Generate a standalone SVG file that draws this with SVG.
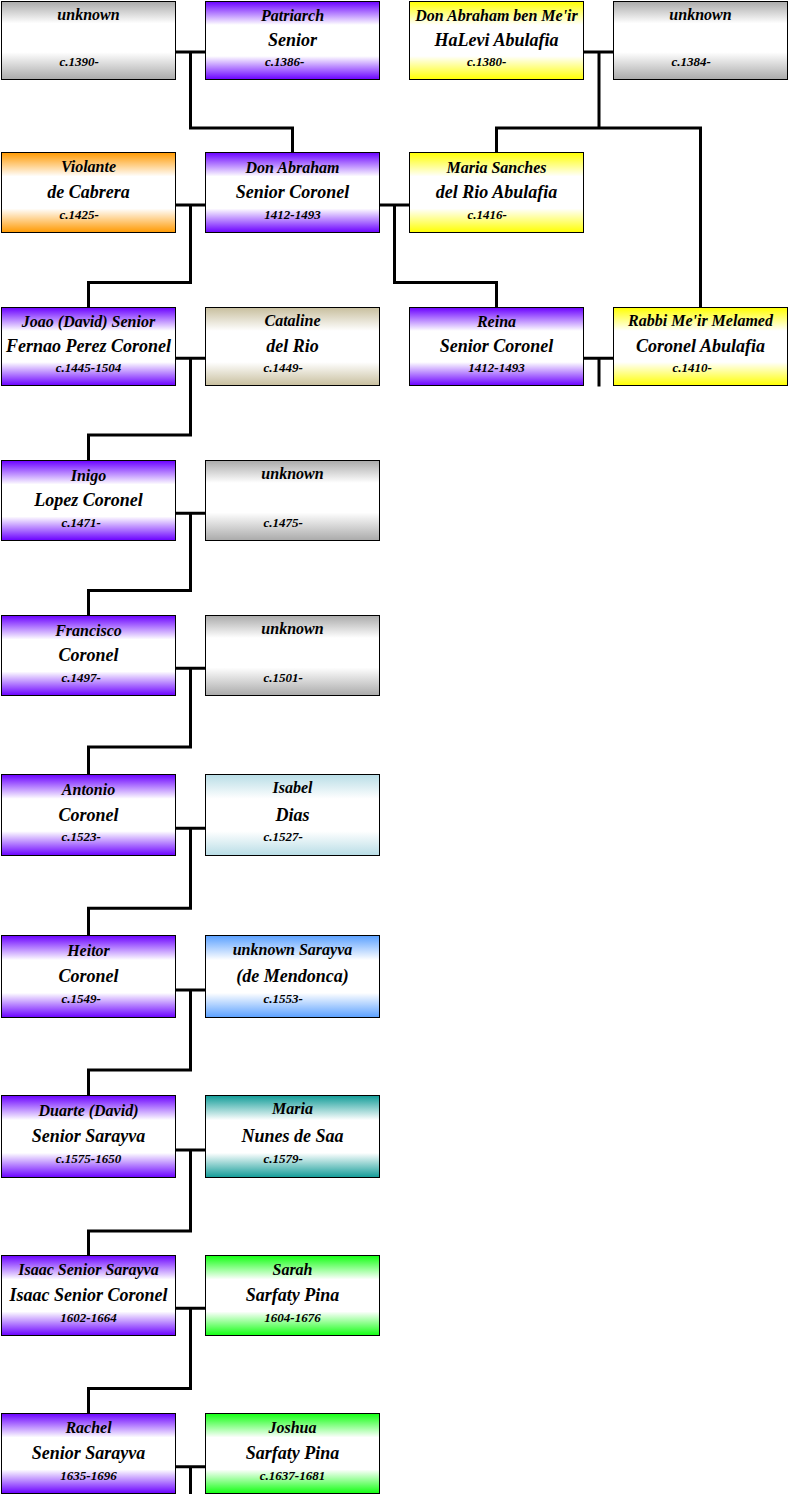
<svg xmlns="http://www.w3.org/2000/svg" width="788" height="1494" viewBox="0 0 788 1494">
<style>
.box{stroke:#000;stroke-width:1}
.t1{font-family:"Liberation Serif","DejaVu Serif",serif;font-style:italic;font-weight:bold;font-size:16px;fill:#000;text-anchor:middle}
.t2{font-family:"Liberation Serif","DejaVu Serif",serif;font-style:italic;font-weight:bold;font-size:18px;fill:#000;text-anchor:middle}
.t3{font-family:"Liberation Serif","DejaVu Serif",serif;font-style:italic;font-weight:bold;font-size:13px;fill:#000;text-anchor:middle}
.t3s{font-family:"Liberation Serif","DejaVu Serif",serif;font-style:italic;font-weight:bold;font-size:13px;fill:#000;text-anchor:start}
.conn path{fill:none;stroke:#000;stroke-width:3;stroke-linejoin:miter}
</style>
<defs>
<linearGradient id="gPurple" x1="0" y1="0" x2="0" y2="1"><stop offset="0" stop-color="#6a00ff"/><stop offset="0.3" stop-color="#fff"/><stop offset="0.7" stop-color="#fff"/><stop offset="1" stop-color="#6a00ff"/></linearGradient>
<linearGradient id="gGray" x1="0" y1="0" x2="0" y2="1"><stop offset="0" stop-color="#aaa"/><stop offset="0.28" stop-color="#fff"/><stop offset="0.65" stop-color="#fff"/><stop offset="1" stop-color="#aaa"/></linearGradient>
<linearGradient id="gYellow" x1="0" y1="0" x2="0" y2="1"><stop offset="0" stop-color="#ffff00"/><stop offset="0.3" stop-color="#fff"/><stop offset="0.7" stop-color="#fff"/><stop offset="1" stop-color="#ffff00"/></linearGradient>
<linearGradient id="gOrange" x1="0" y1="0" x2="0" y2="1"><stop offset="0" stop-color="#ff9900"/><stop offset="0.3" stop-color="#fff"/><stop offset="0.7" stop-color="#fff"/><stop offset="1" stop-color="#ff9900"/></linearGradient>
<linearGradient id="gTan" x1="0" y1="0" x2="0" y2="1"><stop offset="0" stop-color="#c8bf9e"/><stop offset="0.3" stop-color="#fff"/><stop offset="0.7" stop-color="#fff"/><stop offset="1" stop-color="#c8bf9e"/></linearGradient>
<linearGradient id="gLightBlue" x1="0" y1="0" x2="0" y2="1"><stop offset="0" stop-color="#b8dde6"/><stop offset="0.3" stop-color="#fff"/><stop offset="0.7" stop-color="#fff"/><stop offset="1" stop-color="#b8dde6"/></linearGradient>
<linearGradient id="gBlue" x1="0" y1="0" x2="0" y2="1"><stop offset="0" stop-color="#5aa0ff"/><stop offset="0.3" stop-color="#fff"/><stop offset="0.7" stop-color="#fff"/><stop offset="1" stop-color="#5aa0ff"/></linearGradient>
<linearGradient id="gTeal" x1="0" y1="0" x2="0" y2="1"><stop offset="0" stop-color="#119c98"/><stop offset="0.3" stop-color="#fff"/><stop offset="0.7" stop-color="#fff"/><stop offset="1" stop-color="#119c98"/></linearGradient>
<linearGradient id="gGreen" x1="0" y1="0" x2="0" y2="1"><stop offset="0" stop-color="#11ff11"/><stop offset="0.3" stop-color="#fff"/><stop offset="0.7" stop-color="#fff"/><stop offset="1" stop-color="#11ff11"/></linearGradient>
</defs>
<rect width="788" height="1494" fill="#fff"/>
<g id="connectors" class="conn">
<path d="M175.5 52 H205.5 M190.5 52 V128 H292.5 V152.5"/>
<path d="M583.5 52 H613.5 M599 52 V128 M496.5 152.5 V128 H700.5 V307.5"/>
<path d="M175.5 205 H205.5 M190.5 205 V282.5 H88.5 V307.5"/>
<path d="M379.5 205 H409.5 M394.5 205 V282.5 H496.5 V307.5"/>
<path d="M175.5 358.3 H205.5 M190.5 358.3 V435 H88.5 V460.5"/>
<path d="M583.5 358.3 H613.5 M599 358.3 V386.5"/>
<path d="M175.5 513.3 H205.5 M190.5 513.3 V590.5 H88.5 V615.5"/>
<path d="M175.5 668.3 H205.5 M190.5 668.3 V747 H88.5 V774.5"/>
<path d="M175.5 828.3 H205.5 M190.5 828.3 V908.3 H88.5 V935.5"/>
<path d="M175.5 990 H205.5 M190.5 990 V1070 H88.5 V1095.5"/>
<path d="M175.5 1150 H205.5 M190.5 1150 V1231 H88.5 V1255.5"/>
<path d="M175.5 1308.3 H205.5 M190.5 1308.3 V1388.5 H88.5 V1413.5"/>
<path d="M175.5 1466.7 H205.5 M190.5 1466.7 V1494"/>
</g>

<g id="n_unknown_1390"><rect class="box" x="1.5" y="1.5" width="174" height="78" fill="url(#gGray)"/><text class="t1" x="88.5" y="19.5">unknown</text><text class="t3s" x="59.5" y="66">c.1390-</text></g>
<g id="n_patriarch"><rect class="box" x="205.5" y="1.5" width="174" height="78" fill="url(#gPurple)"/><text class="t1" x="292.5" y="20.5">Patriarch</text><text class="t2" x="292.5" y="46">Senior</text><text class="t3s" x="265" y="66">c.1386-</text></g>
<g id="n_don_abraham_halevi"><rect class="box" x="409.5" y="1.5" width="174" height="78" fill="url(#gYellow)"/><text class="t1" x="496.5" y="20.5">Don Abraham ben Me'ir</text><text class="t2" x="496.5" y="46">HaLevi Abulafia</text><text class="t3s" x="467" y="66">c.1380-</text></g>
<g id="n_unknown_1384"><rect class="box" x="613.5" y="1.5" width="174" height="78" fill="url(#gGray)"/><text class="t1" x="700.5" y="19.5">unknown</text><text class="t3s" x="671.5" y="66">c.1384-</text></g>

<g id="n_violante"><rect class="box" x="1.5" y="152.5" width="174" height="80" fill="url(#gOrange)"/><text class="t1" x="88.5" y="171.5">Violante</text><text class="t2" x="88.5" y="198">de Cabrera</text><text class="t3s" x="59.5" y="218.5">c.1425-</text></g>
<g id="n_don_abraham_senior"><rect class="box" x="205.5" y="152.5" width="174" height="80" fill="url(#gPurple)"/><text class="t1" x="292.5" y="172.5">Don Abraham</text><text class="t2" x="292.5" y="198">Senior Coronel</text><text class="t3" x="292.5" y="218.5">1412-1493</text></g>
<g id="n_maria_sanches"><rect class="box" x="409.5" y="152.5" width="174" height="80" fill="url(#gYellow)"/><text class="t1" x="496.5" y="172.5">Maria Sanches</text><text class="t2" x="496.5" y="198">del Rio Abulafia</text><text class="t3s" x="467.5" y="218.5">c.1416-</text></g>

<g id="n_joao"><rect class="box" x="1.5" y="307.5" width="174" height="78" fill="url(#gPurple)"/><text class="t1" x="88.5" y="327">Joao (David) Senior</text><text class="t2" x="88.5" y="352">Fernao Perez Coronel</text><text class="t3" x="88.5" y="372">c.1445-1504</text></g>
<g id="n_cataline"><rect class="box" x="205.5" y="307.5" width="174" height="78" fill="url(#gTan)"/><text class="t1" x="292.5" y="326">Cataline</text><text class="t2" x="292.5" y="352">del Rio</text><text class="t3s" x="263.5" y="372">c.1449-</text></g>
<g id="n_reina"><rect class="box" x="409.5" y="307.5" width="174" height="78" fill="url(#gPurple)"/><text class="t1" x="496.5" y="326.5">Reina</text><text class="t2" x="496.5" y="352">Senior Coronel</text><text class="t3" x="496.5" y="372">1412-1493</text></g>
<g id="n_rabbi_meir"><rect class="box" x="613.5" y="307.5" width="174" height="78" fill="url(#gYellow)"/><text class="t1" x="700.5" y="326">Rabbi Me'ir Melamed</text><text class="t2" x="700.5" y="352">Coronel Abulafia</text><text class="t3s" x="672.5" y="372">c.1410-</text></g>

<g id="n_inigo"><rect class="box" x="1.5" y="460.5" width="174" height="80" fill="url(#gPurple)"/><text class="t1" x="88.5" y="480.5">Inigo</text><text class="t2" x="88.5" y="506">Lopez Coronel</text><text class="t3s" x="61.5" y="526.5">c.1471-</text></g>
<g id="n_unknown_1475"><rect class="box" x="205.5" y="460.5" width="174" height="80" fill="url(#gGray)"/><text class="t1" x="292.5" y="478.5">unknown</text><text class="t3s" x="263.5" y="526.5">c.1475-</text></g>

<g id="n_francisco"><rect class="box" x="1.5" y="615.5" width="174" height="80" fill="url(#gPurple)"/><text class="t1" x="88.5" y="635.5">Francisco</text><text class="t2" x="88.5" y="661">Coronel</text><text class="t3s" x="61.5" y="681.5">c.1497-</text></g>
<g id="n_unknown_1501"><rect class="box" x="205.5" y="615.5" width="174" height="80" fill="url(#gGray)"/><text class="t1" x="292.5" y="633.5">unknown</text><text class="t3s" x="263.5" y="681.5">c.1501-</text></g>

<g id="n_antonio"><rect class="box" x="1.5" y="774.5" width="174" height="81" fill="url(#gPurple)"/><text class="t1" x="88.5" y="794.5">Antonio</text><text class="t2" x="88.5" y="820.5">Coronel</text><text class="t3s" x="61.5" y="841">c.1523-</text></g>
<g id="n_isabel"><rect class="box" x="205.5" y="774.5" width="174" height="81" fill="url(#gLightBlue)"/><text class="t1" x="292.5" y="792.5">Isabel</text><text class="t2" x="292.5" y="820.5">Dias</text><text class="t3s" x="263.5" y="841">c.1527-</text></g>

<g id="n_heitor"><rect class="box" x="1.5" y="935.5" width="174" height="82" fill="url(#gPurple)"/><text class="t1" x="88.5" y="955.5">Heitor</text><text class="t2" x="88.5" y="982">Coronel</text><text class="t3s" x="61.5" y="1002.5">c.1549-</text></g>
<g id="n_unknown_sarayva"><rect class="box" x="205.5" y="935.5" width="174" height="82" fill="url(#gBlue)"/><text class="t1" x="292.5" y="954.5">unknown Sarayva</text><text class="t2" x="292.5" y="982">(de Mendonca)</text><text class="t3s" x="263.5" y="1002.5">c.1553-</text></g>

<g id="n_duarte"><rect class="box" x="1.5" y="1095.5" width="174" height="82" fill="url(#gPurple)"/><text class="t1" x="88.5" y="1115.5">Duarte (David)</text><text class="t2" x="88.5" y="1142">Senior Sarayva</text><text class="t3" x="88.5" y="1162.5">c.1575-1650</text></g>
<g id="n_maria_nunes"><rect class="box" x="205.5" y="1095.5" width="174" height="82" fill="url(#gTeal)"/><text class="t1" x="292.5" y="1113.5">Maria</text><text class="t2" x="292.5" y="1142">Nunes de Saa</text><text class="t3s" x="263.5" y="1162.5">c.1579-</text></g>

<g id="n_isaac"><rect class="box" x="1.5" y="1255.5" width="174" height="80" fill="url(#gPurple)"/><text class="t1" x="88.5" y="1274.5">Isaac Senior Sarayva</text><text class="t2" x="88.5" y="1301">Isaac Senior Coronel</text><text class="t3" x="88.5" y="1321.5">1602-1664</text></g>
<g id="n_sarah"><rect class="box" x="205.5" y="1255.5" width="174" height="80" fill="url(#gGreen)"/><text class="t1" x="292.5" y="1274.5">Sarah</text><text class="t2" x="292.5" y="1301">Sarfaty Pina</text><text class="t3" x="292.5" y="1321.5">1604-1676</text></g>

<g id="n_rachel"><rect class="box" x="1.5" y="1413.5" width="174" height="80" fill="url(#gPurple)"/><text class="t1" x="88.5" y="1432.5">Rachel</text><text class="t2" x="88.5" y="1459">Senior Sarayva</text><text class="t3" x="88.5" y="1479.5">1635-1696</text></g>
<g id="n_joshua"><rect class="box" x="205.5" y="1413.5" width="174" height="80" fill="url(#gGreen)"/><text class="t1" x="292.5" y="1432.5">Joshua</text><text class="t2" x="292.5" y="1459">Sarfaty Pina</text><text class="t3" x="292.5" y="1479.5">c.1637-1681</text></g>
</svg>
